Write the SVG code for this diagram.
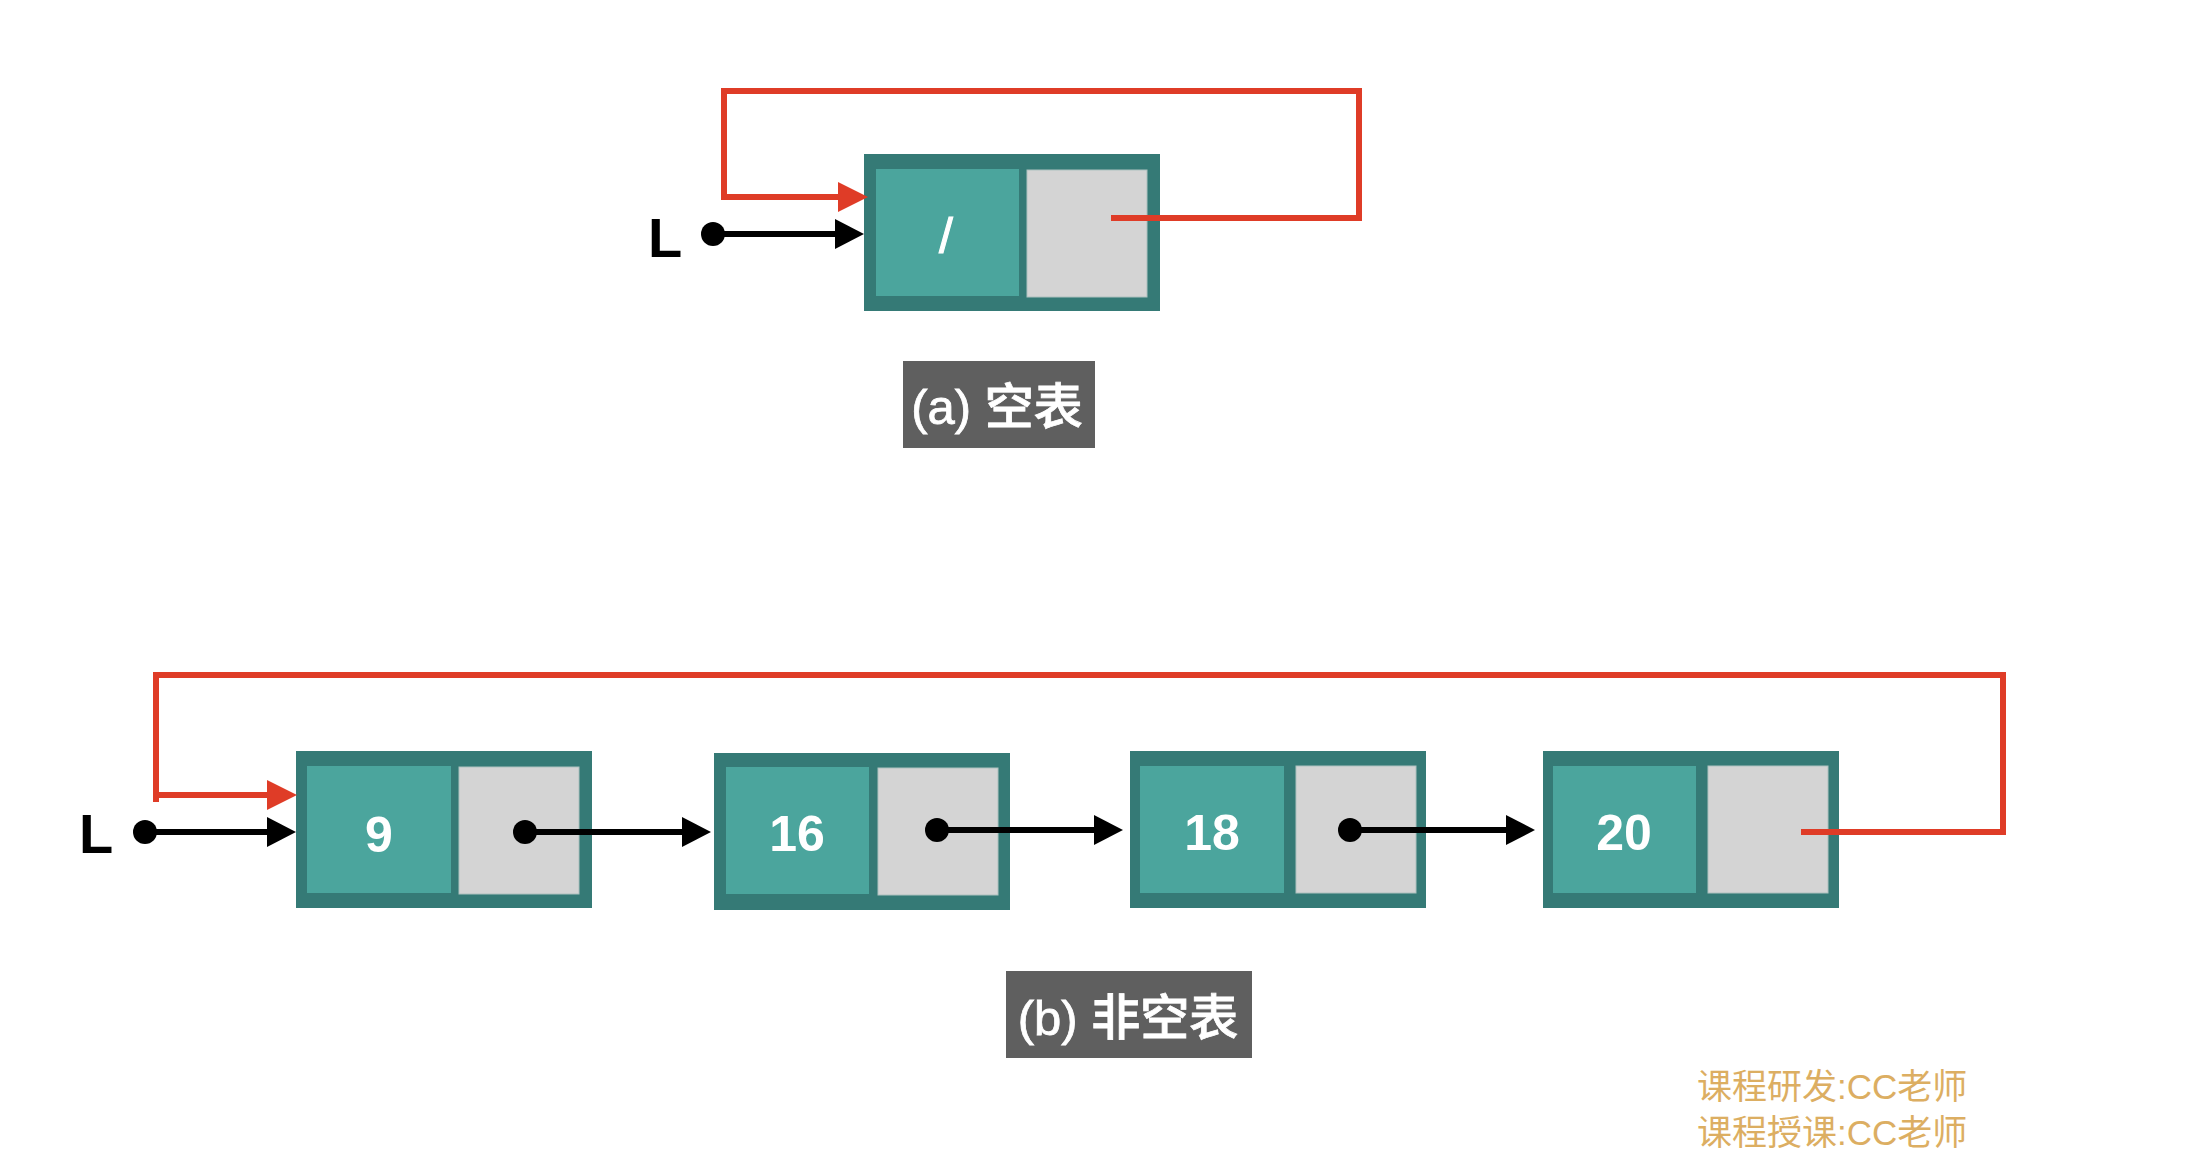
<svg xmlns="http://www.w3.org/2000/svg" width="2190" height="1170" viewBox="0 0 2190 1170">
<style>
.outer{fill:#357a76}
.data{fill:#4ba59d}
.next{fill:#d4d4d4;stroke:#aec1bf;stroke-width:1}
.num{font-family:"Liberation Sans",Arial,sans-serif;font-weight:bold;font-size:50px;fill:#ffffff;text-anchor:middle}
.lbl{font-family:"Liberation Sans","Noto Sans CJK SC",sans-serif;font-weight:500;font-size:49px;fill:#ffffff;text-anchor:middle;stroke:#ffffff;stroke-width:0.8}
.lbox{fill:#5f5f5f}
.head{font-family:"Liberation Sans",Arial,sans-serif;font-weight:bold;font-size:56px;fill:#000000}
.red{fill:none;stroke:#df3c27;stroke-width:6;stroke-linejoin:miter}
.blk{fill:none;stroke:#000000;stroke-width:6}
.dot{fill:#000000}
.credit{font-family:"Liberation Sans","Noto Sans CJK SC",sans-serif;font-size:35px;fill:#dcae62}
</style>
<defs>
<marker id="arr-red" markerUnits="userSpaceOnUse" markerWidth="30" markerHeight="30" viewBox="0 0 30 30" refX="10" refY="15" orient="auto"><path d="M0,0 L30,15 L0,30 z" fill="#df3c27"/></marker>
<marker id="arr-blk" markerUnits="userSpaceOnUse" markerWidth="30" markerHeight="30" viewBox="0 0 30 30" refX="10" refY="15" orient="auto"><path d="M0,0 L29,15 L0,30 z" fill="#000000"/></marker>
</defs>
<rect width="2190" height="1170" fill="#ffffff"/>

<!-- (a) empty list -->
<g id="node-a">
<rect class="outer" x="864" y="154" width="296" height="157"/>
<rect class="data" x="876" y="169" width="143" height="127"/>
<rect class="next" x="1027" y="170" width="120" height="127"/>
<text x="946" y="253" font-family="Liberation Sans, Arial, sans-serif" font-size="50" fill="#ffffff" stroke="#ffffff" stroke-width="1" text-anchor="middle">/</text>
</g>
<g id="head-a"><text class="head" x="648" y="257">L</text></g>
<g id="label-a">
<rect class="lbox" x="903" y="361" width="192" height="87"/>
<text class="lbl" x="997" y="424">(a) 空表</text>
</g>

<!-- (b) non-empty list -->
<g id="head-b"><text class="head" x="79" y="853">L</text></g>
<g id="node-9">
<rect class="outer" x="296" y="751" width="296" height="157"/>
<rect class="data" x="307" y="766" width="144" height="127"/>
<rect class="next" x="459" y="767" width="120" height="127"/>
<text class="num" x="379" y="852">9</text>
</g>
<g id="node-16">
<rect class="outer" x="714" y="753" width="296" height="157"/>
<rect class="data" x="726" y="767" width="143" height="127"/>
<rect class="next" x="878" y="768" width="120" height="127"/>
<text class="num" x="797" y="851">16</text>
</g>
<g id="node-18">
<rect class="outer" x="1130" y="751" width="296" height="157"/>
<rect class="data" x="1140" y="766" width="144" height="127"/>
<rect class="next" x="1296" y="766" width="120" height="127"/>
<text class="num" x="1212" y="850">18</text>
</g>
<g id="node-20">
<rect class="outer" x="1543" y="751" width="296" height="157"/>
<rect class="data" x="1553" y="766" width="143" height="127"/>
<rect class="next" x="1708" y="766" width="120" height="127"/>
<text class="num" x="1624" y="850">20</text>
</g>
<g id="label-b">
<rect class="lbox" x="1006" y="971" width="246" height="87"/>
<text class="lbl" x="1128" y="1035">(b) 非空表</text>
</g>

<g id="connectors">
<!-- (a) -->
<path class="red" d="M1111,218 H1359 V91 H724 V197 H848" marker-end="url(#arr-red)"/>
<circle class="dot" cx="713" cy="234" r="12"/>
<path class="blk" d="M713,234 H845" marker-end="url(#arr-blk)"/>
<!-- (b) -->
<path class="red" d="M1801,832 H2003 V675 H156 V802"/>
<path class="red" d="M156,795 H277" marker-end="url(#arr-red)"/>
<circle class="dot" cx="145" cy="832" r="12"/>
<path class="blk" d="M145,832 H277" marker-end="url(#arr-blk)"/>
<circle class="dot" cx="525" cy="832" r="12"/>
<path class="blk" d="M525,832 H692" marker-end="url(#arr-blk)"/>
<circle class="dot" cx="937" cy="830" r="12"/>
<path class="blk" d="M937,830 H1104" marker-end="url(#arr-blk)"/>
<circle class="dot" cx="1350" cy="830" r="12"/>
<path class="blk" d="M1350,830 H1516" marker-end="url(#arr-blk)"/>
</g>

<g id="credits">
<text class="credit" x="1697" y="1099">课程研发:CC老师</text>
<text class="credit" x="1697" y="1145">课程授课:CC老师</text>
</g>
</svg>
